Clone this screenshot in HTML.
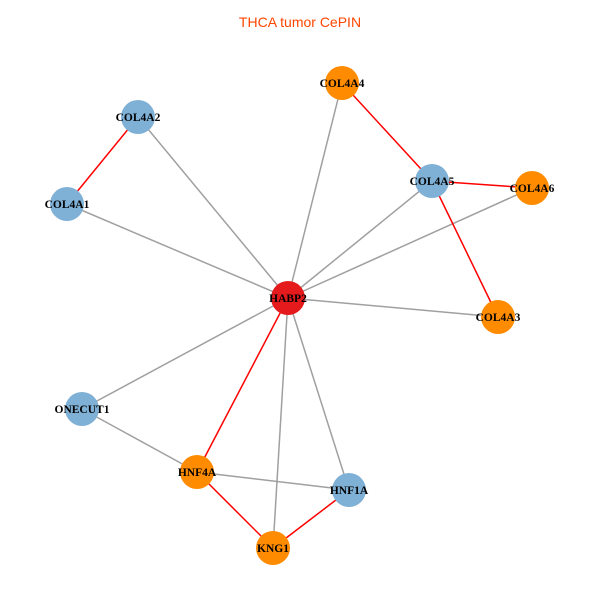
<!DOCTYPE html>
<html><head><meta charset="utf-8"><style>body{margin:0;background:#fff}</style></head><body>
<svg width="600" height="600" xmlns="http://www.w3.org/2000/svg">
<rect width="600" height="600" fill="#fff"/>
<text x="300" y="27" text-anchor="middle" font-family="Liberation Sans, sans-serif" font-size="14" fill="#FF4500">THCA tumor CePIN</text>
<g stroke="#A0A0A0" stroke-width="1.5">
<line x1="288" y1="298" x2="342" y2="83"/>
<line x1="288" y1="298" x2="138" y2="117"/>
<line x1="288" y1="298" x2="67" y2="204"/>
<line x1="288" y1="298" x2="432" y2="181"/>
<line x1="288" y1="298" x2="532" y2="188"/>
<line x1="288" y1="298" x2="498" y2="317"/>
<line x1="288" y1="298" x2="82" y2="409"/>
<line x1="288" y1="298" x2="349" y2="490"/>
<line x1="288" y1="298" x2="273" y2="548"/>
<line x1="82" y1="409" x2="197" y2="472"/>
<line x1="197" y1="472" x2="349" y2="490"/>
</g>
<g stroke="#FF0000" stroke-width="1.5">
<line x1="288" y1="298" x2="197" y2="472"/>
<line x1="138" y1="117" x2="67" y2="204"/>
<line x1="342" y1="83" x2="432" y2="181"/>
<line x1="432" y1="181" x2="532" y2="188"/>
<line x1="432" y1="181" x2="498" y2="317"/>
<line x1="197" y1="472" x2="273" y2="548"/>
<line x1="273" y1="548" x2="349" y2="490"/>
</g>
<g>
<circle cx="342" cy="83" r="17" fill="#FF8C00"/>
<circle cx="138" cy="117" r="17" fill="#7FB0D5"/>
<circle cx="67" cy="204" r="17" fill="#7FB0D5"/>
<circle cx="432" cy="181" r="17" fill="#7FB0D5"/>
<circle cx="532" cy="188" r="17" fill="#FF8C00"/>
<circle cx="498" cy="317" r="17" fill="#FF8C00"/>
<circle cx="82" cy="409" r="17" fill="#7FB0D5"/>
<circle cx="197" cy="472" r="17" fill="#FF8C00"/>
<circle cx="349" cy="490" r="17" fill="#7FB0D5"/>
<circle cx="273" cy="548" r="17" fill="#FF8C00"/>
<circle cx="288" cy="298" r="17" fill="#E41A1C"/>
</g>
<g font-family="Liberation Serif, serif" font-size="11.5" font-weight="bold" text-anchor="middle" fill="#000">
<text x="342" y="87">COL4A4</text>
<text x="138" y="121">COL4A2</text>
<text x="67" y="208">COL4A1</text>
<text x="432" y="185">COL4A5</text>
<text x="532" y="192">COL4A6</text>
<text x="498" y="321">COL4A3</text>
<text x="82" y="413">ONECUT1</text>
<text x="197" y="476">HNF4A</text>
<text x="349" y="494">HNF1A</text>
<text x="273" y="552">KNG1</text>
<text x="288" y="302">HABP2</text>
</g>
</svg>
</body></html>
